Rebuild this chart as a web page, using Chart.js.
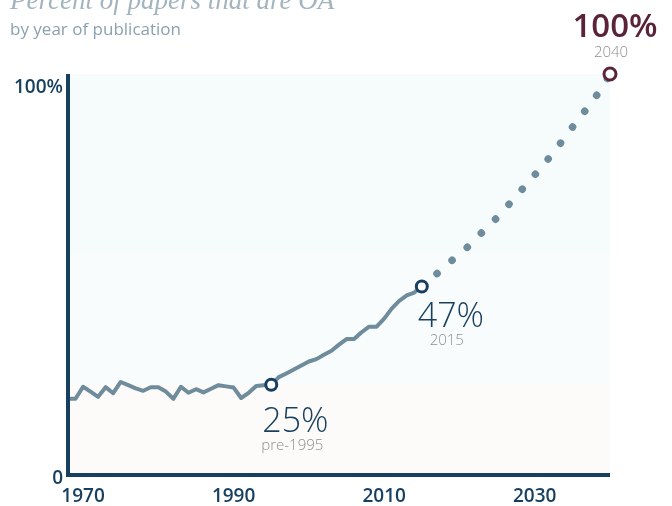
<!DOCTYPE html>
<html lang="en">
  <head>
    <meta charset="UTF-8" />
    <title>Percent of papers that are OA</title>
    <style>
      html, body { margin: 0; padding: 0; background: #ffffff; }
      body { width: 672px; height: 506px; position: relative; overflow: hidden; }
      #title {
        position: absolute; left: 10px; top: -13px; margin: 0;
        font: italic 27px/27px "Liberation Serif", serif;
        color: #a3b4bf; white-space: nowrap;
      }
      #subtitle {
        position: absolute; left: 10px; top: 20px; margin: 0;
        font: 400 17px/17px "Open Sans", sans-serif;
        color: #8ba1af; white-space: nowrap;
      }
      #wrap { position: absolute; left: 0; top: 0; width: 672px; height: 506px; }
    </style>
    <script src="https://cdn.jsdelivr.net/npm/chart.js"></script>
  </head>
  <body>
    <div id="wrap"><canvas id="myChart"></canvas></div>
    <h1 id="title">Percent of papers that are OA</h1>
    <div id="subtitle">by year of publication</div>

    <script>
      // values
      const histYears = [1968, 1969, 1970, 1971, 1972, 1973, 1974, 1975, 1976, 1977,
        1978, 1979, 1980, 1981, 1982, 1983, 1984, 1985, 1986, 1987,
        1988, 1989, 1990, 1991, 1992, 1993, 1994, 1995, 1996, 1997,
        1998, 1999, 2000, 2001, 2002, 2003, 2004, 2005, 2006, 2007,
        2008, 2009, 2010, 2011, 2012, 2013, 2014, 2015];
      const histValues = [19.0, 19.0, 22.0, 20.8, 19.5, 21.9, 20.4, 23.2, 22.4, 21.6,
        21.0, 21.9, 21.9, 20.8, 19.0, 22.0, 20.5, 21.4, 20.6, 21.5,
        22.4, 22.1, 21.8, 19.2, 20.5, 22.2, 22.4, 22.5, 24.4, 25.3,
        26.3, 27.3, 28.3, 28.9, 30.0, 31.0, 32.5, 33.9, 33.9, 35.6,
        37.0, 37.0, 39.0, 41.5, 43.4, 44.8, 45.5, 47.0];

      const projYears = [2015, 2017, 2019, 2021, 2023, 2025, 2027, 2029, 2031, 2033, 2035, 2037, 2039, 2040];
      const projValues = [47.0, 50.2, 53.5, 56.7, 60.5, 64.2, 68.4, 72.7, 77.0, 81.7, 86.7, 91.6, 96.8, 100];

      const markYears = [1995, 2015, 2040];
      const markValues = [22.5, 47.0, 100];
      const markLabels = ['25%', '47%', '100%'];
      const markNotes = ['pre-1995', '2015', '2040'];

      const xTicks = [1970, 1990, 2010, 2030];
      const yTicks = [0, 100];

      const NAVY = '#173f5f';
      const LINE = '#6f8c9c';
      const GREY = '#8f8f8f';
      const MAROON = '#5b2339';

      const toXY = (xs, ys) => xs.map((x, i) => ({ x: x, y: ys[i] }));

      // faint background bands
      const bandsPlugin = {
        id: 'bands',
        beforeDatasetsDraw(chart) {
          const { ctx, chartArea: a, scales: { y } } = chart;
          const bands = [[100, 55, '#f6fbfc'], [55, 22.5, '#f9fcfc'], [22.5, 0, '#fdfbf9']];
          ctx.save();
          bands.forEach(b => {
            const top = y.getPixelForValue(b[0]);
            const bot = y.getPixelForValue(b[1]);
            ctx.fillStyle = b[2];
            ctx.fillRect(a.left, top, a.right - a.left, bot - top);
          });
          ctx.restore();
        }
      };

      // callout labels next to the marked points
      const calloutPlugin = {
        id: 'callouts',
        afterDatasetsDraw(chart) {
          const { ctx, scales: { x, y } } = chart;
          const px = markYears.map(v => x.getPixelForValue(v));
          const py = markValues.map(v => y.getPixelForValue(v));
          ctx.save();
          ctx.textBaseline = 'alphabetic';

          // 1995
          ctx.fillStyle = NAVY;
          ctx.textAlign = 'left';
          ctx.font = '300 34px "Open Sans"';
          ctx.fillText(markLabels[0], px[0] - 9, py[0] + 47);
          ctx.fillStyle = GREY;
          ctx.font = '300 15px "Open Sans"';
          ctx.fillText(markNotes[0], px[0] - 10, py[0] + 65);

          // 2015
          ctx.fillStyle = NAVY;
          ctx.font = '300 34px "Open Sans"';
          ctx.fillText(markLabels[1], px[1] - 4, py[1] + 40);
          ctx.fillStyle = GREY;
          ctx.textAlign = 'center';
          ctx.font = '300 15px "Open Sans"';
          ctx.fillText(markNotes[1], px[1] + 25, py[1] + 58.5);

          // 2040
          ctx.fillStyle = MAROON;
          ctx.font = '600 33px "Open Sans"';
          ctx.fillText(markLabels[2], px[2] + 5, py[2] - 37.5);
          ctx.fillStyle = GREY;
          ctx.font = '300 15px "Open Sans"';
          ctx.fillText(markNotes[2], px[2] + 1, py[2] - 17.5);
          ctx.restore();
        }
      };

      // thick axis lines along the chart area edges
      const axisPlugin = {
        id: 'axisLines',
        afterDatasetsDraw(chart) {
          const { ctx, chartArea: a } = chart;
          ctx.save();
          ctx.strokeStyle = NAVY;
          ctx.lineWidth = 4;
          ctx.lineCap = 'butt';
          ctx.beginPath();
          ctx.moveTo(a.left, a.top);
          ctx.lineTo(a.left, a.bottom + 2);
          ctx.moveTo(a.left - 2, a.bottom);
          ctx.lineTo(a.right, a.bottom);
          ctx.stroke();
          ctx.restore();
        }
      };

      window.addEventListener('load', setup);

      function setup() {
        const ctx = document.getElementById('myChart').getContext('2d');

        new Chart(ctx, {
          type: 'line',
          data: {
            datasets: [
              {
                label: 'marks',
                data: toXY(markYears, markValues),
                showLine: false,
                pointRadius: [5.5, 5.5, 6],
                pointBorderWidth: 3,
                pointBorderColor: [NAVY, NAVY, MAROON],
                pointBackgroundColor: '#ffffff',
                pointHoverRadius: [5.5, 5.5, 6],
                clip: false,
                order: 0
              },
              {
                label: 'history',
                data: toXY(histYears, histValues),
                borderColor: LINE,
                borderWidth: 4,
                pointRadius: 0,
                tension: 0,
                borderJoinStyle: 'round',
                clip: false,
                order: 1
              },
              {
                label: 'projection',
                data: toXY(projYears, projValues),
                borderColor: LINE,
                borderWidth: 7.5,
                borderDash: [0.1, 19.9],
                borderCapStyle: 'round',
                pointRadius: 0,
                cubicInterpolationMode: 'monotone',
                clip: false,
                order: 2
              }
            ]
          },
          options: {
            responsive: true,
            maintainAspectRatio: false,
            animation: false,
            layout: { padding: { top: 74, right: 62, left: 0, bottom: 0 } },
            plugins: {
              legend: { display: false },
              tooltip: { enabled: false }
            },
            scales: {
              x: {
                type: 'linear',
                min: 1968,
                max: 2040,
                afterFit: s => { s.height = 31; },
                afterBuildTicks: s => { s.ticks = xTicks.map(v => ({ value: v })); },
                grid: { display: false, drawTicks: false },
                border: { display: false },
                ticks: {
                  padding: 10,
                  maxRotation: 0,
                  color: NAVY,
                  font: { family: 'Open Sans', size: 19, weight: 600 },
                  callback: v => String(v)
                }
              },
              y: {
                min: 0,
                max: 100,
                afterFit: s => { s.width = 68; },
                afterBuildTicks: s => { s.ticks = yTicks.map(v => ({ value: v })); },
                grid: { display: false, drawTicks: false },
                border: { display: false },
                ticks: {
                  padding: 5,
                  labelOffset: 4,
                  color: NAVY,
                  font: { family: 'Open Sans', size: 19, weight: 600, lineHeight: 1 },
                  // top label sits just under the 100% line
                  callback: v => (v === 100 ? ['', '100%'] : String(v))
                }
              }
            }
          },
          plugins: [bandsPlugin, axisPlugin, calloutPlugin]
        });
      }
    </script>
  </body>
</html>
